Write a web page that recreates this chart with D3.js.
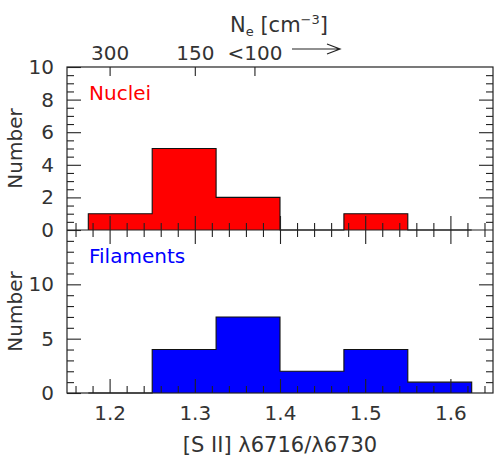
<!DOCTYPE html>
<html><head><meta charset="utf-8">
<script src="https://cdn.jsdelivr.net/npm/d3@7"></script>
<style>
body{margin:0;background:#fff;}
text{font-family:"DejaVu Sans",sans-serif;fill:#333;}
</style></head>
<body><svg id="c" width="499" height="467"></svg>
<script>
// ---- data ----
const binEdges = [1.175, 1.25, 1.325, 1.40, 1.475, 1.55, 1.625];
const nucleiCounts = [1, 5, 2, 0, 1, 0];
const filamentCounts = [0, 4, 7, 2, 4, 1];
const xMajorTicks = [1.2, 1.3, 1.4, 1.5, 1.6];
const densityTickPos = [1.2, 1.3, 1.37];
const densityTickLabels = ["300", "150", "<100"];
const topYMajor = [0, 2, 4, 6, 8, 10];
const botYMajor = [0, 5, 10];

const svg = d3.select("#c");
const left = 67, right = 493, top1 = 67, mid = 230, bot = 393;

const x = d3.scaleLinear().domain([1.15, 1.65]).range([left, right]);
const yTop = d3.scaleLinear().domain([0, 10]).range([mid, top1]);
const yBot = d3.scaleLinear().domain([0, 15]).range([bot, mid]);

const xMinor = d3.range(1.16, 1.6401, 0.02).map(v => +v.toFixed(2)).filter(v => !xMajorTicks.some(m => Math.abs(m - v) < 1e-6));

function hist(g, y, counts, color) {
  const bins = counts.map((c, i) => ({x0: binEdges[i], x1: binEdges[i + 1], c}));
  const pts = [[binEdges[0], 0]];
  bins.forEach(b => { pts.push([b.x0, b.c]); pts.push([b.x1, b.c]); });
  pts.push([binEdges[binEdges.length - 1], 0]);
  const line = d3.line().x(d => x(d[0])).y(d => y(d[1]));
  g.append("path").attr("d", line(pts) + "Z").attr("fill", color).attr("stroke", "none");
  g.append("path").attr("d", line(pts))
    .attr("fill", "none").attr("stroke", "#111").attr("stroke-width", 1.1);
}

function styleAxis(sel) {
  sel.select(".domain").remove();
  sel.selectAll("line").attr("stroke", "#222").attr("stroke-width", 1.1);
  sel.selectAll("text").style("font-size", "20px").attr("fill", "#333");
}

function addAxis(axis, tx, ty) {
  const g = svg.append("g").attr("transform", `translate(${tx},${ty})`).call(axis);
  styleAxis(g);
  return g;
}

const gTop = svg.append("g");
hist(gTop, yTop, nucleiCounts, "#ff0000");
const gBot = svg.append("g");
hist(gBot, yBot, filamentCounts, "#0000ff");

const topMinorY = d3.range(0.5, 10, 0.5).filter(v => v % 2 !== 0);
const botMinorY = d3.range(1, 15).filter(v => v % 5 !== 0);

// top panel axes
addAxis(d3.axisBottom(x).tickValues(xMajorTicks).tickSize(-14).tickFormat(""), 0, mid);
addAxis(d3.axisBottom(x).tickValues(xMinor).tickSize(-7).tickFormat(""), 0, mid);
addAxis(d3.axisTop(x).tickValues(densityTickPos).tickSize(-9).tickPadding(7)
  .tickFormat((d, i) => densityTickLabels[i]), 0, top1);
addAxis(d3.axisLeft(yTop).tickValues(topYMajor).tickSize(-14).tickPadding(13).tickFormat(d3.format("d")), left, 0);
addAxis(d3.axisLeft(yTop).tickValues(topMinorY).tickSize(-7).tickFormat(""), left, 0);
addAxis(d3.axisRight(yTop).tickValues(topYMajor.slice(1, -1)).tickSize(-14).tickFormat(""), right, 0);
addAxis(d3.axisRight(yTop).tickValues(topMinorY).tickSize(-7).tickFormat(""), right, 0);

// bottom panel axes
addAxis(d3.axisTop(x).tickValues(xMajorTicks).tickSize(-14).tickFormat(""), 0, mid);
addAxis(d3.axisTop(x).tickValues(xMinor).tickSize(-7).tickFormat(""), 0, mid);
addAxis(d3.axisBottom(x).tickValues(xMajorTicks).tickSize(-14).tickPadding(13).tickFormat(d3.format(".1f")), 0, bot);
addAxis(d3.axisBottom(x).tickValues(xMinor).tickSize(-7).tickFormat(""), 0, bot);
addAxis(d3.axisLeft(yBot).tickValues(botYMajor).tickSize(-14).tickPadding(13).tickFormat(d3.format("d")), left, 0);
addAxis(d3.axisLeft(yBot).tickValues(botMinorY).tickSize(-7).tickFormat(""), left, 0);
addAxis(d3.axisRight(yBot).tickValues(botYMajor.slice(1)).tickSize(-14).tickFormat(""), right, 0);
addAxis(d3.axisRight(yBot).tickValues(botMinorY).tickSize(-7).tickFormat(""), right, 0);

// frames
svg.append("rect").attr("x", left).attr("y", top1).attr("width", right - left).attr("height", bot - top1)
  .attr("fill", "none").attr("stroke", "#222").attr("stroke-width", 1.2);
svg.append("line").attr("x1", left).attr("x2", right).attr("y1", mid).attr("y2", mid)
  .attr("stroke", "#222").attr("stroke-width", 1.2);

// labels
svg.append("text").attr("transform", `translate(22,${(top1 + mid) / 2}) rotate(-90)`)
  .attr("text-anchor", "middle").style("font-size", "20px").text("Number");
svg.append("text").attr("transform", `translate(22,${(mid + bot) / 2}) rotate(-90)`)
  .attr("text-anchor", "middle").style("font-size", "20px").text("Number");
svg.append("text").attr("x", 89).attr("y", 100).style("font-size", "20px").style("fill", "#ff0000").text("Nuclei");
svg.append("text").attr("x", 89).attr("y", 263).style("font-size", "20px").style("fill", "#0000ff").text("Filaments");
svg.append("text").attr("x", 280).attr("y", 452).attr("text-anchor", "middle").style("font-size", "21px")
  .text("[S II] λ6716/λ6730");

const ne = svg.append("text").attr("x", 230).attr("y", 32).style("font-size", "21px");
ne.append("tspan").text("N");
ne.append("tspan").attr("dy", 4).style("font-size", "13px").text("e");
ne.append("tspan").attr("dy", -4).text(" [cm");
ne.append("tspan").attr("dy", -8).style("font-size", "13px").text("−3");
ne.append("tspan").attr("dy", 8).text("]");

// arrow
svg.append("path").attr("d", `M292,49H340M327,44L340,49L327,54`)
  .attr("fill", "none").attr("stroke", "#222").attr("stroke-width", 1.2);
</script></body></html>
